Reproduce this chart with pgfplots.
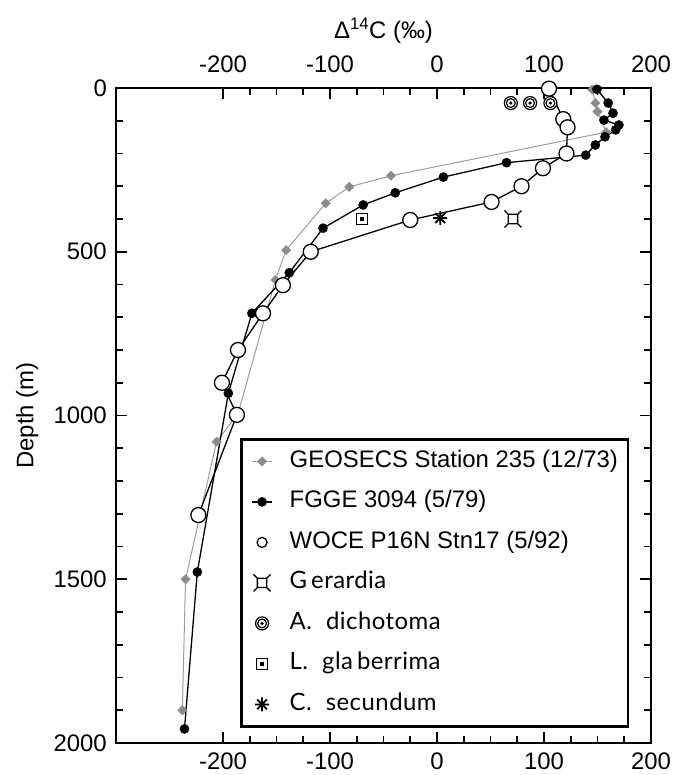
\documentclass[border=0pt]{standalone}
\usepackage{pgfplots}
\pgfplotsset{compat=1.18}
\usepackage{fontspec}
\setmainfont{Liberation Sans}
\newfontfamily\spfont[LetterSpace=2]{Lato}
\usetikzlibrary{plotmarks}
\definecolor{lgray}{gray}{0.62}
\definecolor{dgray}{gray}{0.55}

\pgfdeclareplotmark{gerardia}{%
  \pgfpathrectangle{\pgfqpoint{-0.55\pgfplotmarksize}{-0.55\pgfplotmarksize}}{\pgfqpoint{1.1\pgfplotmarksize}{1.1\pgfplotmarksize}}%
  \pgfpathmoveto{\pgfqpoint{0.55\pgfplotmarksize}{0.55\pgfplotmarksize}}\pgfpathlineto{\pgfqpoint{\pgfplotmarksize}{\pgfplotmarksize}}%
  \pgfpathmoveto{\pgfqpoint{-0.55\pgfplotmarksize}{0.55\pgfplotmarksize}}\pgfpathlineto{\pgfqpoint{-\pgfplotmarksize}{\pgfplotmarksize}}%
  \pgfpathmoveto{\pgfqpoint{0.55\pgfplotmarksize}{-0.55\pgfplotmarksize}}\pgfpathlineto{\pgfqpoint{\pgfplotmarksize}{-\pgfplotmarksize}}%
  \pgfpathmoveto{\pgfqpoint{-0.55\pgfplotmarksize}{-0.55\pgfplotmarksize}}\pgfpathlineto{\pgfqpoint{-\pgfplotmarksize}{-\pgfplotmarksize}}%
  \pgfusepathqstroke}
\pgfdeclareplotmark{cdot}{%
  \pgfpathcircle{\pgfpointorigin}{\pgfplotmarksize}\pgfusepathqfillstroke
  \pgfpathcircle{\pgfpointorigin}{0.68\pgfplotmarksize}\pgfusepathqstroke
  \pgfscope\pgfsetfillcolor{black}%
  \pgfpathcircle{\pgfpointorigin}{0.28\pgfplotmarksize}\pgfusepathqfill\endpgfscope}
\pgfdeclareplotmark{sqdot}{%
  \pgfpathrectangle{\pgfqpoint{-\pgfplotmarksize}{-\pgfplotmarksize}}{\pgfqpoint{2\pgfplotmarksize}{2\pgfplotmarksize}}\pgfusepathqfillstroke
  \pgfscope\pgfsetfillcolor{black}%
  \pgfpathrectangle{\pgfqpoint{-0.38\pgfplotmarksize}{-0.38\pgfplotmarksize}}{\pgfqpoint{0.76\pgfplotmarksize}{0.76\pgfplotmarksize}}\pgfusepathqfill\endpgfscope}
\pgfdeclareplotmark{star8}{%
  \pgfpathmoveto{\pgfqpoint{-\pgfplotmarksize}{0pt}}\pgfpathlineto{\pgfqpoint{\pgfplotmarksize}{0pt}}%
  \pgfpathmoveto{\pgfqpoint{0pt}{-\pgfplotmarksize}}\pgfpathlineto{\pgfqpoint{0pt}{\pgfplotmarksize}}%
  \pgfpathmoveto{\pgfqpoint{-0.707\pgfplotmarksize}{-0.707\pgfplotmarksize}}\pgfpathlineto{\pgfqpoint{0.707\pgfplotmarksize}{0.707\pgfplotmarksize}}%
  \pgfpathmoveto{\pgfqpoint{-0.707\pgfplotmarksize}{0.707\pgfplotmarksize}}\pgfpathlineto{\pgfqpoint{0.707\pgfplotmarksize}{-0.707\pgfplotmarksize}}%
  \pgfusepathqstroke}

\pgfplotsset{
  lineleg/.style={legend image code/.code={\draw[mark repeat=2,mark phase=2,##1] plot coordinates {(0bp,0bp)(10bp,0bp)(20bp,0bp)};}},
  markleg/.style={legend image code/.code={\draw[##1] plot coordinates {(10bp,0bp)};}},
  wocleg/.style={legend image code/.code={\draw[##1, mark size=5bp] plot coordinates {(10bp,0bp)};}},
}

\newcommand\bigf{\fontsize{24}{28}\selectfont}

\begin{document}
\begin{tikzpicture}
\begin{axis}[
  scale only axis, width=535bp, height=655bp,
  xmin=-300, xmax=200, ymin=0, ymax=2000, y dir=reverse,
  xtick={-200,-100,0,100,200}, ytick={0,500,1000,1500,2000},
  minor x tick num=3, minor y tick num=4,
  tick align=inside,
  major tick length=11bp, minor tick length=7bp,
  every tick/.style={black, line width=1.8bp},
  axis line style={line width=2.6bp},
  /pgf/number format/assume math mode=true,
  /pgf/number format/1000 sep={},
  ticklabel style={font=\bigf, inner sep=2bp},
  xticklabel style={yshift=-8bp},
  yticklabel style={xshift=-7bp},
  ylabel={Depth (m)},
  ylabel style={font=\bigf, at={(axis description cs:-0.166,0.5)}, anchor=center},
  clip=false,
  legend cell align=left,
  legend style={at={(axis cs:-184,1069)}, anchor=north west, draw=black, line width=2.6bp, fill=white,
    inner xsep=10bp, inner ysep=10bp, row sep=16.5bp,
    /tikz/every odd column/.append style={column sep=17bp},
    font=\bigf, nodes={inner sep=0pt, text height=18bp, text depth=6bp}},
]
\path (axis description cs:0,0) ++(-116bp,-32bp) (axis description cs:1,1) ++(21bp,88bp);

% GEOSECS Station 235
\addplot[color=lgray, line width=1bp, mark=square*, mark size=3.3bp,
  mark options={rotate=45, fill=dgray, draw=dgray, line width=0.4bp}, lineleg] coordinates {
(145,5) (148,46) (150,72) (158,135) (-43,268) (-82,302) (-104,352) (-141,495)
(-151,586) (-186,995) (-206,1080) (-235,1500) (-238,1900)};
\addlegendentry{GEOSECS Station 235 (12/73)}

% FGGE 3094
\addplot[color=black, line width=1.3bp, mark=*, mark size=4.6bp,
  mark options={fill=black, line width=0.4bp}, lineleg] coordinates {
(149.5,4) (160,46) (164.5,77) (156,98) (170,113) (167,128) (157,149) (148,174)
(139,205) (65,228) (6,272) (-39,320) (-69,357) (-106.5,428) (-138,564)
(-173,688) (-195,932) (-224,1478) (-236,1957)};
\addlegendentry{FGGE 3094 (5/79)}

% WOCE P16N Stn17
\addplot[color=black, line width=1.3bp, mark=*, mark size=7.5bp,
  mark options={fill=white, line width=1.3bp}, wocleg] coordinates {
(104.7,2) (118,95) (122,120) (121,200) (99,245) (79,300) (51,348) (-25,403)
(-118,500) (-144,602) (-162.6,688) (-186,800) (-201,900) (-187,998) (-223,1304)};
\addlegendentry{WOCE P16N Stn17 (5/92)}

% Gerardia
\addplot[only marks, mark=gerardia, mark size=8.5bp, mark options={line width=1.3bp, draw=black}, markleg] coordinates {(71,400)};
\addlegendentry{{\spfont G\,erardia}}

% A. dichotoma
\addplot[only marks, mark=cdot, mark size=6.5bp, mark options={fill=white, line width=1.2bp, draw=black}, markleg] coordinates {(69,46) (87,46) (106,46)};
\addlegendentry{{\spfont A.\hspace{14bp}dichotoma}}

% L. glaberrima
\addplot[only marks, mark=sqdot, mark size=5.5bp, mark options={fill=white, line width=1.2bp, draw=black}, markleg] coordinates {(-70,400)};
\addlegendentry{{\spfont L.\hspace{14bp}gla\,berrima}}

% C. secundum
\addplot[only marks, mark=star8, mark size=7bp, mark options={line width=1.8bp, draw=black}, markleg] coordinates {(3,397)};
\addlegendentry{{\spfont C.\hspace{14bp}secundum}}
\end{axis}

\begin{axis}[
  scale only axis, width=535bp, height=655bp,
  xmin=-300, xmax=200, ymin=0, ymax=2000, y dir=reverse,
  xtick={-200,-100,0,100,200}, ytick=\empty,
  minor x tick num=0,
  axis line style={draw=none}, every tick/.style={draw=none},
  xticklabel pos=right,
  /pgf/number format/assume math mode=true,
  ticklabel style={font=\bigf, inner sep=2bp},
  xticklabel style={yshift=13bp},
  xlabel={Δ\textsuperscript{14}C (‰)},
  xlabel style={font=\bigf, at={(axis description cs:0.5,1)}, anchor=center, yshift=57bp},
]
\end{axis}
\end{tikzpicture}
\end{document}
